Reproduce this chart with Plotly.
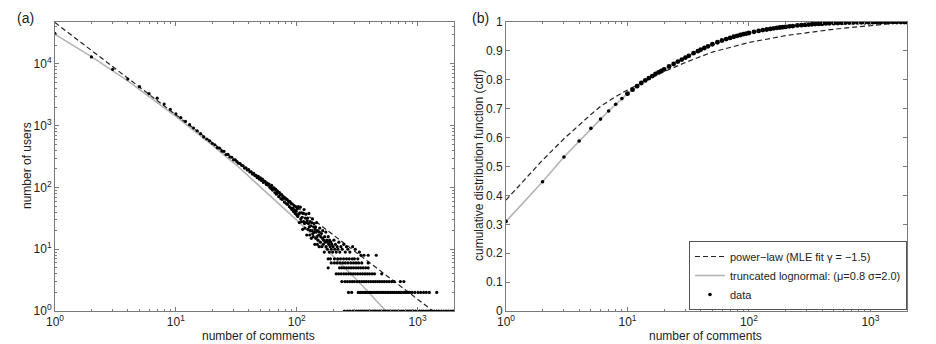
import plotly.graph_objects as go

# ---------------- panel (a): users per number of comments ----------------
head_comments = list(range(1, 101))
head_users = [
    31000, 13000, 8200, 5700, 4300, 3300, 2800, 2250, 1850, 1560,
    1350, 1180, 1040, 920, 830, 745, 660, 610, 570, 520,
    492, 441, 433, 389, 384, 342, 345, 312, 309, 281,
    281, 262, 248, 244, 229, 224, 206, 208, 192, 194,
    179, 180, 165, 170, 156, 158, 145, 151, 137, 143,
    130, 137, 121, 127, 124, 112, 118, 109, 114, 101,
    97, 108, 91, 99, 98, 83, 93, 78, 88, 84,
    71, 83, 76, 66, 77, 64, 72, 69, 58, 68,
    65, 55, 64, 53, 61, 58, 49, 59, 47, 55,
    44, 54, 46, 41, 51, 43, 38, 49, 41, 36,
]

mid_comments = [
    101, 102, 103, 104, 105, 106, 107, 108, 109, 110, 111, 112, 113, 114, 115,
    116, 117, 118, 119, 120, 121, 122, 123, 124, 125, 126, 127, 128, 129, 130,
    131, 132, 133, 134, 135, 136, 137, 138, 139, 140, 141, 142, 143, 144, 145,
    146, 147, 148, 149, 150, 152, 153, 154, 155, 157, 158, 160, 161, 163, 164,
    166, 167, 169, 170, 172, 174, 175, 177, 179, 180, 182, 184, 186, 187, 189,
    191, 193, 195, 198, 200, 203, 206, 209, 212, 216, 219, 223, 227, 232, 238,
    245, 252, 258, 265, 275, 290, 305, 330, 340, 360, 390, 455,
]
mid_users = [
    45, 34, 49, 37, 27, 39, 48, 31, 28, 39, 33, 21, 38, 28, 44,
    26, 22, 32, 37, 27, 17, 29, 32, 21, 26, 38, 23, 17, 28, 20,
    24, 15, 27, 20, 31, 18, 16, 23, 26, 19, 12, 21, 23, 15, 19,
    27, 16, 12, 20, 14, 17, 11, 19, 22, 13, 16, 18, 11, 15, 20,
    12, 14, 9, 16, 13, 19, 11, 14, 10, 13, 16, 12, 9, 14, 11,
    13, 10, 12, 9, 11, 14, 10, 12, 9, 11, 10, 13, 9, 11, 10,
    12, 9, 11, 10, 9, 11, 10, 9, 8, 8, 8, 8,
]

# horizontal rows of the tail (users = 7, 6, 5, 4, 3, 2, 1)
row7_comments = [182, 190, 205, 218, 230, 244, 258, 272, 288, 300, 320]
row6_comments = [193, 205, 216, 228, 240, 252, 265, 280, 295, 310, 325, 345, 390]
row5_comments = [182, 226, 236, 247, 258, 270, 282, 295, 309, 323, 338, 354, 372, 390]
row4_comments = [212, 222, 233, 245, 256, 268, 280, 293, 306, 320, 335, 350, 366,
                 383, 400, 420, 440, 505]
row3_comments = [236, 250, 262, 275, 288, 300, 315, 330, 345, 360, 376, 392, 410,
                 428, 446, 466, 486, 508, 530, 555, 580, 610, 640, 720, 770]
row2_comments = [268, 285, 323, 335, 348, 360, 372, 385, 398, 410, 425, 440, 455,
                 470, 488, 505, 522, 540, 560, 580, 600, 622, 645, 668, 692, 716,
                 740, 770, 800, 830, 860, 900, 950, 1010, 1060, 1120, 1180, 1250, 1440]
row1_comments = [248, 262, 275, 290, 300, 312, 325, 338, 350, 362, 375, 390, 405,
                 420, 436, 450, 468, 485, 500, 520, 540, 560, 580, 600, 625, 650,
                 675, 700, 730, 760, 790, 820, 850, 880, 920, 960, 1000, 1040, 1080,
                 1120, 1170, 1220, 1270, 1320, 1380, 1440, 1500, 1570, 1640, 1720,
                 1800, 1880, 1960]

# fitted curves
powerlaw_a_comments = [1, 2000]
powerlaw_a_users = [46800, 0.55]
lognorm_a_comments = [1, 2, 4, 6.3, 10, 14, 20, 32, 50, 71, 100, 126, 158, 200,
                      251, 316, 398, 550, 794]
lognorm_a_users = [30200, 13150, 5320, 2800, 1420, 839, 485, 227, 103, 55.8, 29.6,
                   19.2, 12.4, 7.9, 5.0, 3.15, 1.96, 1.0, 0.45]

# ---------------- panel (b): cumulative distribution ----------------
cdf_comments = [1, 2, 3, 4, 5, 6, 7, 8, 9, 10, 11, 12, 13, 14, 15, 16, 17, 18, 19, 20,
                22, 24, 26, 28, 30, 32, 35, 38, 40, 43, 46, 50, 55, 60, 65, 70, 75,
                80, 85, 90, 95, 100, 110, 120, 130, 140, 150, 160, 170, 180, 190,
                200, 215, 230, 250, 270, 290, 310, 330, 350, 375, 400, 430, 460,
                500, 540, 580, 620, 670, 720, 780, 840, 900, 970, 1050, 1130, 1220,
                1320, 1420, 1530, 1650, 1780, 1900, 2000]
cdf_values = [0.310, 0.447, 0.533, 0.588, 0.632, 0.664, 0.692, 0.715, 0.735, 0.752,
              0.766, 0.778, 0.789, 0.798, 0.806, 0.813, 0.820, 0.826, 0.831, 0.836,
              0.846, 0.855, 0.863, 0.870, 0.877, 0.883, 0.892, 0.899, 0.904, 0.910,
              0.916, 0.923, 0.930, 0.936, 0.941, 0.945, 0.949, 0.952, 0.955, 0.958,
              0.960, 0.962, 0.966, 0.969, 0.972, 0.974, 0.976, 0.978, 0.980, 0.981,
              0.982, 0.983, 0.985, 0.986, 0.988, 0.989, 0.990, 0.991, 0.992, 0.993,
              0.9935, 0.994, 0.995, 0.9955, 0.996, 0.9965, 0.997, 0.9975, 0.998,
              0.9983, 0.9986, 0.9988, 0.999, 0.9992, 0.9993, 0.9994, 0.9995, 0.9996,
              0.9997, 0.9998, 0.9999, 1.0, 1.0, 1.0]

powerlaw_b_comments = [1, 1.5, 2, 3, 4, 5, 6, 8, 10, 15, 20, 30, 50, 100, 200, 500,
                       1000, 2000]
powerlaw_b_cdf = [0.384, 0.465, 0.522, 0.596, 0.645, 0.680, 0.708, 0.742, 0.765,
                  0.803, 0.828, 0.860, 0.896, 0.929, 0.953, 0.975, 0.988, 1.0]
lognorm_b_comments = [1, 2, 3, 4, 5, 6, 7, 8, 10, 15, 20, 30, 50, 100, 200, 500,
                      1000, 2000]
lognorm_b_cdf = [0.310, 0.447, 0.533, 0.588, 0.632, 0.664, 0.692, 0.715, 0.752,
                 0.806, 0.836, 0.877, 0.923, 0.962, 0.983, 0.996, 0.9992, 1.0]

x_ticks = [1, 10, 100, 1000]
x_ticktext = ["10<sup>0</sup>", "10<sup>1</sup>", "10<sup>2</sup>", "10<sup>3</sup>"]
y_ticks_a = [1, 10, 100, 1000, 10000]
y_ticktext_a = ["10<sup>0</sup>", "10<sup>1</sup>", "10<sup>2</sup>",
                "10<sup>3</sup>", "10<sup>4</sup>"]
y_ticks_b = [0, 0.1, 0.2, 0.3, 0.4, 0.5, 0.6, 0.7, 0.8, 0.9, 1]
y_ticktext_b = ["0", "0.1", "0.2", "0.3", "0.4", "0.5", "0.6", "0.7", "0.8", "0.9", "1"]

minor_log = [m * 10 ** e for e in range(0, 5) for m in range(2, 10)]

# build the scatter arrays of panel (a)
scatter_comments = head_comments + mid_comments
scatter_users = head_users + mid_users
for level, row in [(7, row7_comments), (6, row6_comments), (5, row5_comments),
                   (4, row4_comments), (3, row3_comments), (2, row2_comments),
                   (1, row1_comments)]:
    scatter_comments += row
    scatter_users += [level] * len(row)

# panel (b) data: the sparse head (x <= 10) and the dense body that merges
# into a thick curve
n_head = sum(1 for c in cdf_comments if c <= 10)

DASH = "5px,3px"
GRAY = "#b4b4b4"
AXIS = "#7a7a7a"
FONT = "Liberation Sans, Arial, sans-serif"

# the page body adds an 8px margin, so the figure is laid out in window pixels
# shifted by that offset
OFFSET = 8
W, H = 936 - OFFSET, 344 - OFFSET


def px(x):
    return (x - OFFSET) / W


def py(y):
    return 1 - (y - OFFSET) / H


fig = go.Figure()

# panel (a)
fig.add_trace(go.Scatter(x=lognorm_a_comments, y=lognorm_a_users, mode="lines",
                         line=dict(color=GRAY, width=1.6), showlegend=False,
                         xaxis="x", yaxis="y"))
fig.add_trace(go.Scatter(x=powerlaw_a_comments, y=powerlaw_a_users, mode="lines",
                         line=dict(color="#222222", width=1.2, dash=DASH),
                         showlegend=False, xaxis="x", yaxis="y"))
fig.add_trace(go.Scatter(x=scatter_comments, y=scatter_users, mode="markers",
                         marker=dict(color="black", size=3.2), showlegend=False,
                         xaxis="x", yaxis="y"))

# panel (b)
fig.add_trace(go.Scatter(x=powerlaw_b_comments, y=powerlaw_b_cdf, mode="lines",
                         name="power\u2212law (MLE fit \u03b3 = \u22121.5)",
                         line=dict(color="#222222", width=1.2, dash=DASH),
                         xaxis="x2", yaxis="y2"))
fig.add_trace(go.Scatter(x=lognorm_b_comments, y=lognorm_b_cdf, mode="lines",
                         name="truncated lognormal: (\u03bc=0.8 \u03c3=2.0)",
                         line=dict(color=GRAY, width=1.6),
                         xaxis="x2", yaxis="y2"))
fig.add_trace(go.Scatter(x=cdf_comments[:n_head], y=cdf_values[:n_head],
                         mode="markers", name="data", legendgroup="data",
                         marker=dict(color="black", size=3.6),
                         xaxis="x2", yaxis="y2"))
fig.add_trace(go.Scatter(x=cdf_comments[n_head - 1:], y=cdf_values[n_head - 1:],
                         mode="markers", name="data", legendgroup="data",
                         showlegend=False, marker=dict(color="black", size=4.8),
                         xaxis="x2", yaxis="y2"))

axis_common = dict(
    showgrid=False, zeroline=False, showline=True, linecolor=AXIS, linewidth=1,
    mirror="ticks", ticks="inside", ticklen=4, tickcolor=AXIS, automargin=False,
    tickfont=dict(family=FONT, size=12, color="#222222"),
)
minor_ticks = dict(ticks="inside", ticklen=2, tickcolor=AXIS,
                   tickmode="array", tickvals=minor_log)
log_x = dict(axis_common, type="log", range=[0, 3.301], tickmode="array",
             tickvals=x_ticks, ticktext=x_ticktext, minor=minor_ticks)

y_domain = [py(311), py(22)]

fig.update_layout(
    width=W, height=H,
    margin=dict(l=0, r=0, t=0, b=0, pad=0),
    paper_bgcolor="white", plot_bgcolor="white",
    font=dict(family=FONT, size=12, color="#222222"),
    xaxis=dict(log_x, domain=[px(55), px(454)], anchor="y"),
    yaxis=dict(axis_common, type="log", range=[0, 4.68], domain=y_domain,
               anchor="x", tickmode="array", tickvals=y_ticks_a,
               ticktext=y_ticktext_a, minor=minor_ticks),
    xaxis2=dict(log_x, domain=[px(506), px(907)], anchor="y2"),
    yaxis2=dict(axis_common, range=[0, 1], domain=y_domain, anchor="x2",
                tickmode="array", tickvals=y_ticks_b, ticktext=y_ticktext_b),
    legend=dict(x=px(907), xanchor="right", y=py(310), yanchor="bottom",
                bgcolor="white", bordercolor="#555555", borderwidth=1,
                font=dict(family=FONT, size=11, color="#222222"),
                tracegroupgap=0, itemwidth=30),
    showlegend=True,
)

annotations = [
    dict(text="(a)", x=px(15), y=py(8), xanchor="left", yanchor="top",
         font=dict(size=14)),
    dict(text="(b)", x=px(470), y=py(8), xanchor="left", yanchor="top",
         font=dict(size=14)),
    dict(text="number of comments", x=px(258), y=py(336), xanchor="center",
         yanchor="middle"),
    dict(text="number of comments", x=px(705), y=py(336), xanchor="center",
         yanchor="middle"),
    dict(text="number of users", x=px(27), y=py(166), xanchor="center",
         yanchor="middle", textangle=-90),
    dict(text="cumulative distribution function (cdf)", x=px(479), y=py(166),
         xanchor="center", yanchor="middle", textangle=-90),
]
for a in annotations:
    a.update(xref="paper", yref="paper", showarrow=False)
fig.update_layout(annotations=annotations)

fig.write_html("out.html")
